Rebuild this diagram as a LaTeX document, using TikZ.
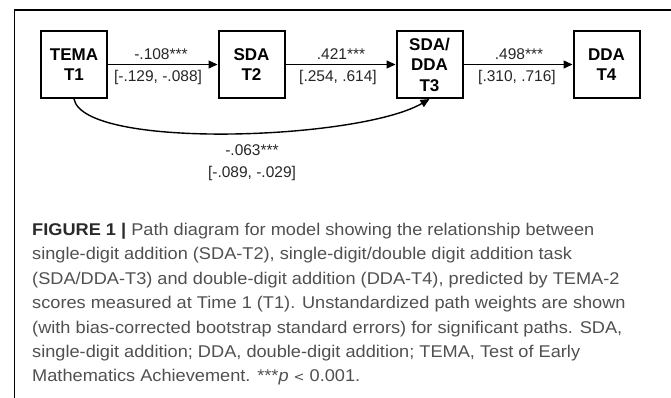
\documentclass[tikz,border=0pt]{standalone}
\usepackage{fontspec}
\setmainfont{Liberation Sans}
\newfontfamily\capfont[FakeStretch=1.07]{Liberation Sans}
\usetikzlibrary{arrows.meta,calc}
\definecolor{captxt}{HTML}{505050}
\definecolor{capbold}{HTML}{2A2A2A}
\tikzset{
  varbox/.style={draw, line width=2pt, minimum width=66pt, minimum height=67pt, inner sep=0pt,
    align=center, font=\bfseries\fontsize{17}{20.5}\selectfont},
  path/.style={line width=1.4pt, -{Triangle[length=9pt,width=8pt]}},
  wlabel/.style={anchor=base, inner sep=0pt, font=\fontsize{15.5}{18}\selectfont, text=black!85},
  capline/.style={anchor=base west, inner sep=0pt, font=\capfont\fontsize{17}{20}\selectfont, text=captxt},
  frame/.style={line width=1.3pt}
}
\begin{document}
\begin{tikzpicture}[x=1pt,y=-1pt]
\useasboundingbox (0,0) rectangle (671,398);
% partial frame
\coordinate (ftl) at (14.5,10);
\coordinate (ftr) at (671,10);
\coordinate (fbl) at (14.5,398);
\draw[frame] (fbl) -- (ftl) -- (ftr);
% boxes
\node[varbox] (tema) at (74,64.5) {TEMA\\T1};
\node[varbox] (sda) at (251.5,64.5) {SDA\\T2};
\node[varbox] (sdadda) at (429.5,64.5) {SDA/\\DDA\\T3};
\node[varbox] (dda) at (606.5,64.5) {DDA\\T4};
% paths
\draw[path] (tema) -- (sda);
\draw[path] (sda) -- (sdadda);
\draw[path] (sdadda) -- (dda);
\draw[path] (tema.south) .. controls ($(tema.south)+(10,51)$) and ($(sdadda.south)+(-70,41)$) .. (sdadda.south);
% labels
\node[wlabel] (l1a) at (161,59.5) {-.108***};
\node[wlabel] (l1b) at (158,82) {[-.129, -.088]};
\node[wlabel] (l2a) at (341,59.5) {.421***};
\node[wlabel] (l2b) at (338,82) {[.254, .614]};
\node[wlabel] (l3a) at (519,59.5) {.498***};
\node[wlabel] (l3b) at (517,82) {[.310, .716]};
\node[wlabel] (l4a) at (252,155.5) {-.063***};
\node[wlabel] (l4b) at (252,177) {[-.089, -.029]};
% caption
\node[capline] (c1) at (32,235) {\textcolor{capbold}{\textbf{FIGURE 1}} \textcolor{capbold}{\textbf{|}} Path diagram for model showing the relationship between};
\node[capline] (c2) at (32,259.5) {single-digit addition (SDA-T2), single-digit/double digit addition task};
\node[capline] (c3) at (32,284) {(SDA/DDA-T3) and double-digit addition (DDA-T4), predicted by TEMA-2};
\node[capline] (c4) at (32,308.5) {scores measured at Time 1 (T1). Unstandardized path weights are shown};
\node[capline] (c5) at (32,333) {(with bias-corrected bootstrap standard errors) for significant paths. SDA,};
\node[capline] (c6) at (32,357.5) {single-digit addition; DDA, double-digit addition; TEMA, Test of Early};
\node[capline] (c7) at (32,381.5) {Mathematics Achievement. ***\textit{p} {\fontspec{DejaVu Sans}\fontsize{13}{14}\selectfont <} 0.001.};
\end{tikzpicture}
\end{document}
